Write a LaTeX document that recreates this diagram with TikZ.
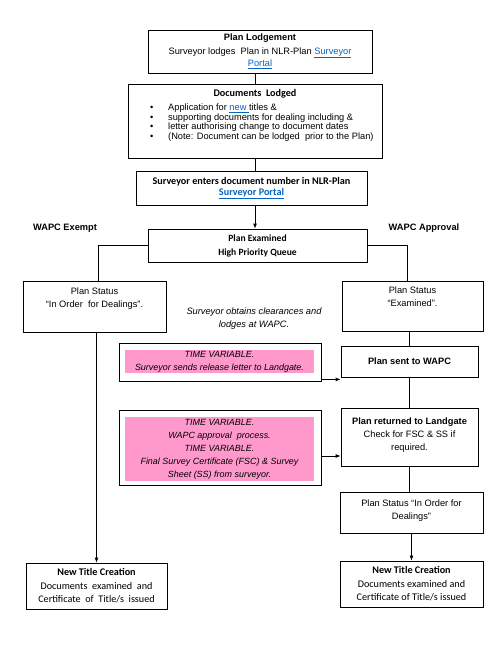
\documentclass[tikz,border=0pt]{standalone}
\usepackage{fontspec}
\setmainfont{Liberation Sans}
\newfontfamily\calfont{Carlito}
\usetikzlibrary{arrows.meta}
\definecolor{linkblue}{RGB}{5,99,193}
\definecolor{pinkfill}{RGB}{255,153,204}
\newcommand{\lnk}[1]{\textcolor{linkblue}{\underline{#1}}}
\begin{document}
\begin{tikzpicture}[x=1bp,y=-1bp,
  box/.style={draw, line width=0.8bp, inner sep=0pt, align=center, fill=white},
  ar/.style={font=\fontsize{9.3}{12.5}\selectfont},
  cb/.style={font=\calfont\fontsize{10.2}{13}\selectfont},
  conn/.style={line width=0.8bp},
  arr/.style={line width=0.8bp, -{Latex[length=5bp,width=4bp]}},
  pinkin/.style={fill=pinkfill, inner sep=0pt, align=center, font=\itshape\fontsize{9}{13}\selectfont}]
\useasboundingbox (0,0) rectangle (501,645);
\fill[white] (0,0) rectangle (501,645);

% top chain
\node[box, ar, minimum width=224bp, minimum height=43bp] (lodg) at (260,51.5)
  {\textbf{Plan Lodgement}\\[1bp] Surveyor lodges\ \ Plan in NLR-Plan \lnk{Surveyor}\\ \lnk{Portal}};
\node[box, minimum width=254bp, minimum height=74bp] (docs) at (255,121) {};
\node[cb, anchor=north] (docsh) at (255,86) {\textbf{Documents\ \ Lodged}};
\node[ar, anchor=north west, align=left, inner sep=0pt, font=\fontsize{9.3}{9.5}\selectfont] (docsl) at (150,104)
  {\makebox[18bp][l]{\textbullet}Application for \lnk{new\ }titles \&\\
   \makebox[18bp][l]{\textbullet}supporting documents for dealing including \&\\
   \makebox[18bp][l]{\textbullet}letter authorising change to document dates\\
   \makebox[18bp][l]{\textbullet}(Note: Document can be lodged\ \ prior to the Plan)};
\node[box, cb, minimum width=231bp, minimum height=34bp, font=\calfont\fontsize{10.2}{11.5}\selectfont] (enter) at (251.5,188)
  {\textbf{Surveyor enters document number in NLR-Plan}\\ \textbf{\lnk{Surveyor Portal}}};
\node[box, cb, minimum width=219bp, minimum height=33bp, font=\calfont\fontsize{9.6}{14}\selectfont] (exam) at (257.5,245.5)
  {\textbf{Plan Examined}\\ \textbf{High Priority Queue}};

\node[ar, font=\bfseries\fontsize{9.3}{12}\selectfont] (wex) at (65,228) {WAPC Exempt};
\node[ar, font=\bfseries\fontsize{9.3}{12}\selectfont] (wap) at (424,228) {WAPC Approval};

% left branch
\node[box, ar, minimum width=143bp, minimum height=51bp, text depth=18bp, font=\fontsize{9.3}{13}\selectfont] (lstat) at (94.5,306.5)
  {Plan Status\\ ``In Order\ \ for Dealings''.};
\node[box, minimum width=141bp, minimum height=46bp, font=\calfont\fontsize{10.2}{13.5}\selectfont] (lnew) at (96.5,586)
  {\textbf{New Title Creation}\\ Documents\ \ examined\ \ and\\ Certificate\ \ of\ \ Title/s\ \ issued};

% right branch
\node[box, ar, minimum width=141bp, minimum height=50bp, text depth=18bp, font=\fontsize{9.3}{13}\selectfont] (rstat) at (412.5,306)
  {Plan Status\\ ``Examined''.};
\node[box, ar, minimum width=137bp, minimum height=31bp, font=\bfseries\fontsize{9.3}{12}\selectfont] (sent) at (409.5,361.5)
  {Plan sent to WAPC};
\node[box, ar, minimum width=137bp, minimum height=58bp, text depth=6bp, font=\fontsize{9.3}{13.3}\selectfont] (ret) at (409.5,437)
  {\textbf{Plan returned to Landgate}\\ Check for FSC \& SS if\\ required.};
\node[box, ar, minimum width=143bp, minimum height=41bp, text depth=5bp, font=\fontsize{9.3}{13}\selectfont] (rstat2) at (411.5,512.5)
  {Plan Status ``In Order for\\ Dealings''};
\node[box, minimum width=143bp, minimum height=46bp, font=\calfont\fontsize{10.2}{13.5}\selectfont] (rnew) at (411.5,584)
  {\textbf{New Title Creation}\\ Documents examined and\\ Certificate of Title/s issued};

% note
\node[font=\itshape\fontsize{9.3}{13}\selectfont, align=center] (note) at (254,318.5)
  {Surveyor obtains clearances and\\ lodges at WAPC.};

% pink boxes
\node[box, minimum width=202bp, minimum height=38bp] (p1) at (220,362) {};
\node[pinkin, minimum width=189bp, minimum height=23bp] (p1t) at (219.5,361.5)
  {TIME VARIABLE.\\ Surveyor sends release letter to Landgate.};
\node[box, minimum width=202bp, minimum height=75bp] (p2) at (220,447.5) {};
\node[pinkin, minimum width=189bp, minimum height=64bp] (p2t) at (219.5,449)
  {TIME VARIABLE.\\ WAPC approval\ \ process.\\ TIME VARIABLE.\\ Final Survey Certificate (FSC) \& Survey\\ Sheet (SS) from surveyor.};

% connectors
\draw[conn] (docs.north) -- (docs.north |- lodg.south);
\draw[conn] (docs.south) -- (docs.south |- enter.north);
\draw[arr] (docs.south |- enter.south) -- (docs.south |- exam.north);
\draw[conn] (exam.west) -| ([xshift=3.5bp]lstat.north);
\draw[conn] (exam.east) -| ([xshift=-5.5bp]rstat.north);
\draw[arr] (lstat.south -| lnew.north) -- (lnew.north);
\draw[conn] (rstat.south -| sent.north) -- (sent.north);
\draw[conn] (sent.south) -- (ret.north);
\draw[conn] (ret.south) -- (ret.south |- rstat2.north);
\draw[arr] (rstat2.south) -- (rnew.north);
\coordinate (a1) at ([yshift=2bp]p1.south east);
\draw[arr] (a1) -- (sent.west |- a1);
\coordinate (a2) at ([yshift=-8.5bp]p2.east);
\draw[arr] (a2) -- (ret.west |- a2);
\end{tikzpicture}
\end{document}
